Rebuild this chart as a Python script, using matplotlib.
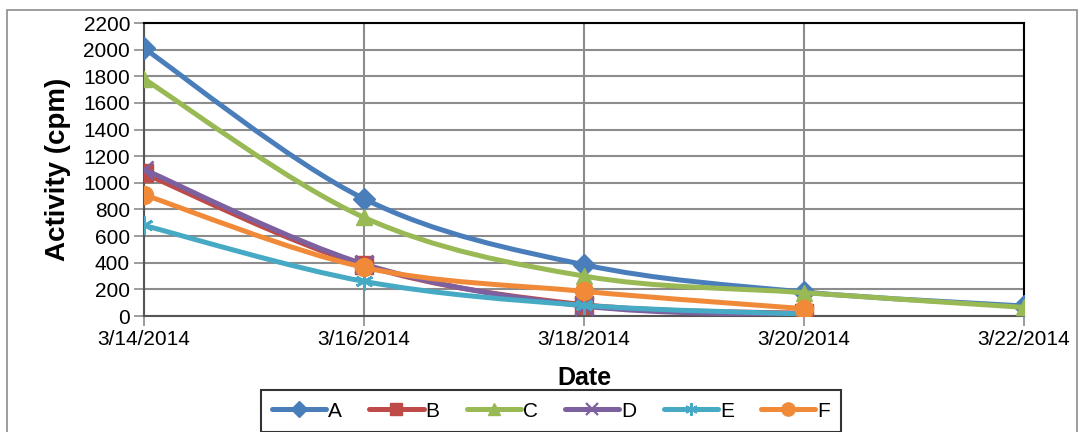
import numpy as np
import pandas as pd
import matplotlib
matplotlib.use("Agg")
import matplotlib.pyplot as plt
import matplotlib.dates as mdates
from matplotlib.path import Path
from matplotlib.patches import PathPatch, Rectangle
from matplotlib.lines import Line2D
from matplotlib.ticker import FuncFormatter, MultipleLocator

plt.rcParams['font.family'] = ['Liberation Sans', 'DejaVu Sans']

# measurement dates and activity per sample (cpm)
dates = ["2014-03-14", "2014-03-16", "2014-03-18", "2014-03-20", "2014-03-22"]
names = ["A", "B", "C", "D", "E", "F"]
act_a = [2010, 880, 385, 180, 75]
act_b = [1070, 380, 85, 20]
act_c = [1780, 740, 300, 175, 65]
act_d = [1100, 390, 75, 5]
act_e = [680, 260, 80, 15]
act_f = [910, 365, 185, 55]

colors = ["#4A7EBB", "#BE4B48", "#98B954", "#7D60A0", "#46AAC5", "#F08A38"]
markers = ["D", "s", "^", "x", (6, 2, 0), "o"]
msizes = [11, 12.5, 12, 13, 13, 13]
leg_sizes = [8, 9, 9, 9, 9, 9.5]

series = [act_a, act_b, act_c, act_d, act_e, act_f]
xnum = mdates.date2num(pd.to_datetime(dates))


def smooth_path(x, y):
    """Cubic bezier through the points (catmull-rom style control points)."""
    pts = np.column_stack([x, y]).astype(float)
    n = len(pts)
    verts = [pts[0]]
    codes = [Path.MOVETO]
    for i in range(n - 1):
        p0 = pts[i - 1] if i > 0 else pts[i]
        p1 = pts[i]
        p2 = pts[i + 1]
        p3 = pts[i + 2] if i + 2 < n else pts[i + 1]
        c1 = p1 + (p2 - p0) / 6.0
        c2 = p2 - (p3 - p1) / 6.0
        verts += [c1, c2, p2]
        codes += [Path.CURVE4] * 3
    return Path(verts, codes)


fig = plt.figure(figsize=(10.8, 4.32), dpi=100)
ax = fig.add_axes([144 / 1080, 1 - 316 / 432, 880 / 1080, 293 / 432])

# outer chart frame
fig.patches.append(Rectangle((7 / 1080, -0.05), 1070 / 1080, 1 - 10 / 432 + 0.05,
                             transform=fig.transFigure, fill=False,
                             edgecolor="#8c8c8c", lw=1.2))

handles = []
for k, (name, vals) in enumerate(zip(names, series)):
    xs = xnum[:len(vals)]
    ax.add_patch(PathPatch(smooth_path(xs, vals), fill=False,
                           edgecolor=colors[k], lw=3.6, zorder=3 + k,
                           capstyle="round", joinstyle="round"))
    mk = markers[k]
    lined = mk in ("x", (6, 2, 0))
    ax.plot(xs, vals, ls="none", marker=mk, ms=msizes[k],
            color=colors[k], mew=2 if lined else 1,
            mec=colors[k], zorder=3.5 + k)
    handles.append(Line2D([], [], color=colors[k], lw=3.6, marker=mk,
                          ms=leg_sizes[k], mew=1.6 if lined else 1,
                          solid_capstyle="round"))

ax.set_xlim(xnum[0], xnum[-1])
ax.set_ylim(0, 2200)
ax.set_xticks(xnum)
ax.xaxis.set_major_formatter(FuncFormatter(
    lambda v, p: "{d.month}/{d.day}/{d.year}".format(d=mdates.num2date(v))))
ax.yaxis.set_major_locator(MultipleLocator(200))

ax.grid(True, color="#8c8c8c", lw=1.5)
ax.set_axisbelow(True)
for s in ax.spines.values():
    s.set_color("black")
    s.set_linewidth(1.5)
ax.spines["left"].set_color("#555555")
ax.spines["bottom"].set_color("#555555")
ax.tick_params(axis="both", labelsize=15, length=7, width=1.2,
               color="#8c8c8c", pad=3)

ax.set_ylabel("Activity (cpm)", fontsize=20, fontweight="bold", labelpad=9)
ax.set_xlabel("Date", fontsize=18, fontweight="bold", labelpad=12)

leg = fig.legend(handles, names, loc="lower center",
                 bbox_to_anchor=(551 / 1080, 0.0), ncol=6, fontsize=15,
                 frameon=True, fancybox=False, edgecolor="black",
                 handlelength=2.6, handletextpad=0.1, columnspacing=1.3,
                 borderpad=0.55, borderaxespad=0.0)
leg.get_frame().set_linewidth(1.5)

fig.savefig("out.png", dpi=100)
